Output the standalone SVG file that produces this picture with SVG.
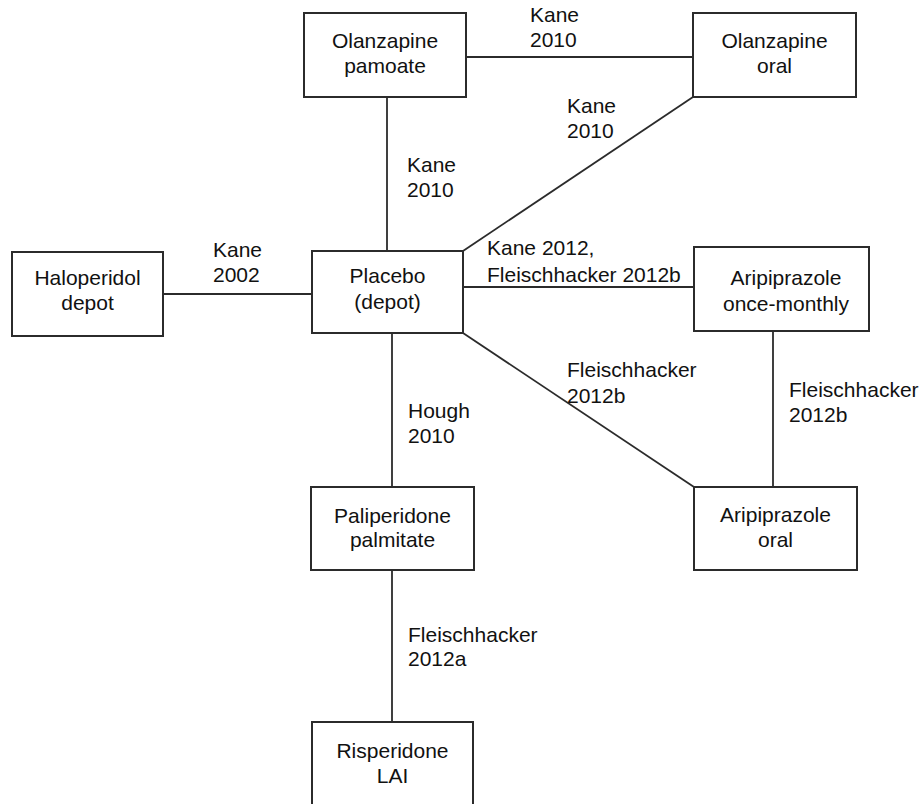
<svg xmlns="http://www.w3.org/2000/svg" width="922" height="804" viewBox="0 0 922 804">
<style>
.box{fill:#fff;stroke:#2b2b2b;stroke-width:2}
.t{font-family:"Liberation Sans",Arial,sans-serif;font-size:21px;fill:#111}
.c{text-anchor:middle}
.ln{stroke:#2b2b2b;stroke-width:1.8;fill:none}
</style>
<rect width="922" height="804" fill="#fff"/>
<g id="connectors">
<line class="ln" x1="387" y1="97" x2="387" y2="251"/>
<line class="ln" x1="466" y1="57" x2="693" y2="57"/>
<line class="ln" x1="463" y1="251" x2="693" y2="97"/>
<line class="ln" x1="163" y1="294" x2="312" y2="294"/>
<line class="ln" x1="463" y1="287" x2="694" y2="287"/>
<line class="ln" x1="463" y1="333" x2="694" y2="487"/>
<line class="ln" x1="392" y1="333" x2="392" y2="487"/>
<line class="ln" x1="392" y1="570" x2="392" y2="722"/>
<line class="ln" x1="773" y1="331" x2="773" y2="487"/>
<text class="t" x="530" y="22">Kane</text>
<text class="t" x="530" y="47">2010</text>
<text class="t" x="567" y="113">Kane</text>
<text class="t" x="567" y="138">2010</text>
<text class="t" x="407" y="172">Kane</text>
<text class="t" x="407" y="197">2010</text>
<text class="t" x="213" y="257">Kane</text>
<text class="t" x="213" y="282">2002</text>
<text class="t" x="487" y="255">Kane 2012,</text>
<text class="t" x="487" y="282">Fleischhacker 2012b</text>
<text class="t" x="567" y="377">Fleischhacker</text>
<text class="t" x="567" y="403">2012b</text>
<text class="t" x="789" y="397">Fleischhacker</text>
<text class="t" x="789" y="422">2012b</text>
<text class="t" x="408" y="418">Hough</text>
<text class="t" x="408" y="443">2010</text>
<text class="t" x="408" y="642">Fleischhacker</text>
<text class="t" x="408" y="666">2012a</text>
</g>
<g id="olanzapine-pamoate">
<rect class="box" x="304" y="13" width="162" height="84"/>
<text class="t c" x="385" y="48">Olanzapine</text>
<text class="t c" x="385" y="73">pamoate</text>
</g>
<g id="olanzapine-oral">
<rect class="box" x="693" y="13" width="163" height="84"/>
<text class="t c" x="774.5" y="48">Olanzapine</text>
<text class="t c" x="774.5" y="73">oral</text>
</g>
<g id="haloperidol-depot">
<rect class="box" x="12" y="252" width="151" height="84"/>
<text class="t c" x="87.5" y="285">Haloperidol</text>
<text class="t c" x="87.5" y="310">depot</text>
</g>
<g id="placebo-depot">
<rect class="box" x="312" y="251" width="151" height="82"/>
<text class="t c" x="387.5" y="283">Placebo</text>
<text class="t c" x="387.5" y="309">(depot)</text>
</g>
<g id="aripiprazole-once-monthly">
<rect class="box" x="694" y="247" width="175" height="84"/>
<text class="t c" x="786" y="285">Aripiprazole</text>
<text class="t c" x="786" y="311">once-monthly</text>
</g>
<g id="aripiprazole-oral">
<rect class="box" x="694" y="487" width="163" height="83"/>
<text class="t c" x="775.5" y="522">Aripiprazole</text>
<text class="t c" x="775.5" y="547">oral</text>
</g>
<g id="paliperidone-palmitate">
<rect class="box" x="311" y="487" width="163" height="83"/>
<text class="t c" x="392.5" y="523">Paliperidone</text>
<text class="t c" x="392.5" y="547">palmitate</text>
</g>
<g id="risperidone-lai">
<rect class="box" x="312" y="722" width="161" height="90"/>
<text class="t c" x="392.5" y="758">Risperidone</text>
<text class="t c" x="392.5" y="783">LAI</text>
</g>
</svg>
